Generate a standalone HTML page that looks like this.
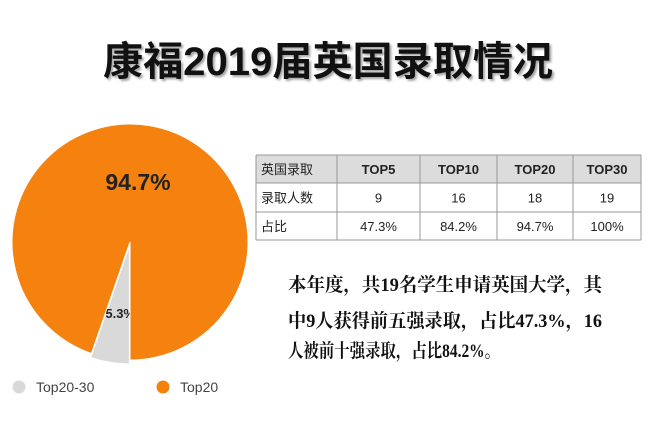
<!DOCTYPE html>
<html><head><meta charset="utf-8">
<style>
html,body{margin:0;padding:0;background:#fff;}
svg{display:block;}
</style></head>
<body>
<svg width="656" height="447" viewBox="0 0 656 447" xmlns="http://www.w3.org/2000/svg">
  <rect width="656" height="447" fill="#fff"/>
  <text x="103" y="75" textLength="450" lengthAdjust="spacingAndGlyphs" font-family="'Liberation Sans','Noto Sans CJK SC',sans-serif" font-size="40" font-weight="bold" fill="#111" style="filter:drop-shadow(2px 2px 1px rgba(0,0,0,0.35))">康福2019届英国录取情况</text>
  <g id="pie"></g>
  <g id="legend"></g>
  <g id="table"></g>
  <g font-family="'Liberation Serif','Noto Serif CJK SC',serif" font-size="19" font-weight="bold" fill="#111">
    <text x="288" y="291" textLength="314" lengthAdjust="spacingAndGlyphs">本年度，共19名学生申请英国大学，其</text>
    <text x="288" y="327" textLength="314" lengthAdjust="spacingAndGlyphs">中9人获得前五强录取，占比47.3%，16</text>
    <text x="288" y="357" textLength="212" lengthAdjust="spacingAndGlyphs">人被前十强录取，占比84.2%。</text>
  </g>
</svg>
<script>
const sliceLabels = ["Top20", "Top20-30"];
const sliceValues = [94.7, 5.3];
const sliceColors = ["#f5820f", "#d9d9d9"];
const tableHeader = ["英国录取", "TOP5", "TOP10", "TOP20", "TOP30"];
const countRow = ["录取人数", "9", "16", "18", "19"];
const ratioRow = ["占比", "47.3%", "84.2%", "94.7%", "100%"];

const NS = "http://www.w3.org/2000/svg";
function mk(tag, attrs, parent) {
  const e = document.createElementNS(NS, tag);
  for (const k in attrs) e.setAttribute(k, attrs[k]);
  parent.appendChild(e);
  return e;
}
// Pie
const pie = document.getElementById("pie");
const cx = 130, cy = 242, r = 118;
const total = sliceValues.reduce((a, b) => a + b, 0);
let start = Math.PI;
const order = [1, 0];
order.forEach(i => {
  const sweep = sliceValues[i] / total * Math.PI * 2;
  const a0 = start, a1 = start + sweep;
  const mid = (a0 + a1) / 2;
  const off = i === 1 ? 4 : 0;
  const ox = cx + off * Math.sin(mid), oy = cy - off * Math.cos(mid);
  const x0 = ox + r * Math.sin(a0), y0 = oy - r * Math.cos(a0);
  const x1 = ox + r * Math.sin(a1), y1 = oy - r * Math.cos(a1);
  const large = sweep > Math.PI ? 1 : 0;
  const p = mk("path", {d: `M${ox},${oy} L${x0},${y0} A${r},${r} 0 ${large} 1 ${x1},${y1} Z`, fill: sliceColors[i], stroke: "#fff", "stroke-width": "1"}, pie);
  
  
  const lr = i === 1 ? r * 0.62 : r * 0.55;
  const lx = ox + lr * Math.sin(i === 1 ? mid : 0) + (i === 1 ? 3 : 8);
  const ly = i === 1 ? oy - lr * Math.cos(mid) : cy - 52;
  const t = mk("text", {x: lx, y: ly, "text-anchor": "middle", "font-family": "'Liberation Sans',sans-serif", "font-weight": "bold", "font-size": i === 1 ? 13 : 23, fill: "#222"}, pie);
  t.textContent = sliceValues[i].toFixed(1) + "%";
  
  
  start = a1;
});
// Legend
const legend = document.getElementById("legend");
[[1, 19, 36], [0, 163, 180]].forEach(([i, dx, tx]) => {
  const g = mk("g", {}, legend);
  
  
  mk("circle", {cx: dx, cy: 387, r: 6.5, fill: sliceColors[i]}, g);
  const t = mk("text", {x: tx, y: 392, "font-family": "'Liberation Sans',sans-serif", "font-size": 14, fill: "#444"}, g);
  t.textContent = sliceLabels[i];
});
// Table
const table = document.getElementById("table");
const colX = [256, 337, 420, 497, 573, 641];
const rowY = [155, 183, 212, 240];
const rows = [tableHeader, countRow, ratioRow];
mk("rect", {x: 256, y: 155, width: 385, height: 28, fill: "#dcdcdc"}, table);
rows.forEach((row, ri) => {
  row.forEach((cell, ci) => {
    const x = ci === 0 ? colX[0] + 5 : (colX[ci] + colX[ci + 1]) / 2;
    const t = mk("text", {x: x, y: (rowY[ri] + rowY[ri + 1]) / 2 + 5, "text-anchor": ci === 0 ? "start" : "middle",
      "font-family": "'Liberation Sans','Noto Sans CJK SC',sans-serif", "font-size": 13,
      "font-weight": (ri === 0 && ci > 0) ? "bold" : "normal", fill: "#222"}, table);
    t.textContent = cell;
    
    
  });
});
rowY.forEach(y => mk("line", {x1: 256, x2: 641, y1: y, y2: y, stroke: "#999", "stroke-width": 1}, table));
colX.forEach(x => mk("line", {x1: x, x2: x, y1: 155, y2: 240, stroke: "#999", "stroke-width": 1}, table));
</script>
</body></html>
